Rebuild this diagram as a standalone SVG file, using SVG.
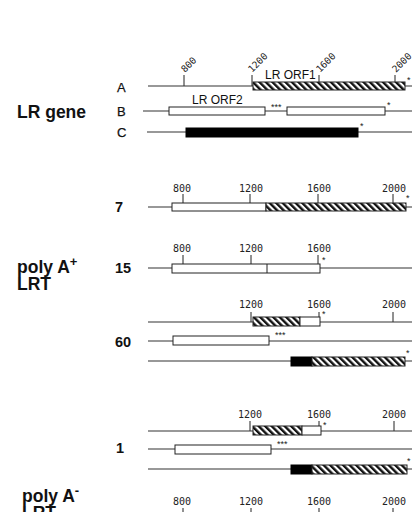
<svg xmlns="http://www.w3.org/2000/svg" width="412" height="512" viewBox="0 0 412 512">
<defs>
<pattern id="hatch" patternUnits="userSpaceOnUse" width="4.6" height="4.6" patternTransform="rotate(-45)">
<rect x="0" y="0" width="4.6" height="4.6" fill="#fff"/>
<rect x="0" y="0" width="2.4" height="4.6" fill="#111"/>
</pattern>
</defs>
<style>
.ln{stroke:#333;stroke-width:1.1;fill:none}
.tk{stroke:#222;stroke-width:1;fill:none}
.ob{fill:#fff;stroke:#222;stroke-width:1}
.hb{fill:url(#hatch);stroke:#222;stroke-width:1}
.bb{fill:#000;stroke:#000;stroke-width:1}
.big{font-family:"Liberation Sans",Arial,sans-serif;font-weight:bold;font-size:17.5px;fill:#111}
.row{font-family:"Liberation Sans",Arial,sans-serif;font-size:13px;fill:#111;stroke:#111;stroke-width:0.25}
.num{font-family:"Liberation Sans",Arial,sans-serif;font-weight:bold;font-size:14.5px;fill:#111}
.orf{font-family:"Liberation Sans",Arial,sans-serif;font-size:12px;fill:#111}
.sc{font-family:"DejaVu Sans Mono","Liberation Mono",monospace;font-size:10px;fill:#222;text-anchor:middle}
.rs{font-family:"DejaVu Sans Mono","Liberation Mono",monospace;font-size:9.5px;fill:#222}
.st{font-family:"Liberation Sans",Arial,sans-serif;font-size:9px;fill:#222}
</style>

<g id="labels">
<text class="big" x="17" y="118">LR gene</text>
<text class="big" x="17" y="273">poly A<tspan dy="-7" font-size="13">+</tspan></text>
<text class="big" x="17" y="290">LRT</text>
<text class="big" x="22" y="502">poly A<tspan dy="-7" font-size="13">-</tspan></text>
<text class="big" x="22" y="519">LRT</text>
</g>

<g id="lr-gene-scale">
<path class="tk" d="M184 75V86M252 75V86M319 75V86M395 75V86"/>
<text class="rs" transform="translate(185,73) rotate(-45)">800</text>
<text class="rs" transform="translate(252,73) rotate(-45)">1200</text>
<text class="rs" transform="translate(320,73) rotate(-45)">1600</text>
<text class="rs" transform="translate(396,73) rotate(-45)">2000</text>
</g>

<g id="row-A">
<text class="row" x="117" y="92">A</text>
<line class="ln" x1="148" y1="86" x2="412" y2="86"/>
<rect class="hb" x="253" y="82" width="152" height="8"/>
<text class="orf" x="265" y="79">LR ORF1</text>
<text class="st" x="407" y="83">*</text>
</g>

<g id="row-B">
<text class="row" x="117" y="116">B</text>
<line class="ln" x1="143" y1="111" x2="412" y2="111"/>
<rect class="ob" x="169" y="107" width="96" height="8"/>
<rect class="ob" x="287" y="107" width="98" height="8"/>
<text class="orf" x="192" y="104">LR ORF2</text>
<text class="st" x="271" y="110">***</text>
<text class="st" x="387" y="108">*</text>
</g>

<g id="row-C">
<text class="row" x="117" y="137">C</text>
<line class="ln" x1="147" y1="132" x2="412" y2="132"/>
<rect class="bb" x="186" y="128" width="172" height="9"/>
<text class="st" x="360" y="129">*</text>
</g>

<g id="lrt-7">
<text class="num" x="115" y="212">7</text>
<text class="sc" x="182" y="192">800</text>
<text class="sc" x="251" y="192">1200</text>
<text class="sc" x="319" y="192">1600</text>
<text class="sc" x="394" y="192">2000</text>
<path class="tk" d="M183 194V203M250 194V203M318 194V203M393 194V203"/>
<line class="ln" x1="148" y1="207" x2="412" y2="207"/>
<rect class="ob" x="172" y="203" width="94" height="8"/>
<rect class="hb" x="266" y="203" width="140" height="8"/>
<text class="st" x="406" y="201">*</text>
</g>

<g id="lrt-15">
<text class="num" x="115" y="273">15</text>
<text class="sc" x="182" y="252">800</text>
<text class="sc" x="251" y="252">1200</text>
<text class="sc" x="319" y="252">1600</text>
<path class="tk" d="M183 255V264M251 255V264M318 255V264"/>
<line class="ln" x1="148" y1="268" x2="412" y2="268"/>
<rect class="ob" x="172" y="264" width="148" height="9"/>
<line class="tk" x1="267" y1="264" x2="267" y2="273"/>
<text class="st" x="322" y="263">*</text>
</g>

<g id="lrt-60">
<text class="num" x="115" y="347">60</text>
<text class="sc" x="251" y="308">1200</text>
<text class="sc" x="319" y="308">1600</text>
<text class="sc" x="394" y="308">2000</text>
<path class="tk" d="M251 312V322M319 312V322M393 312V322"/>
<line class="ln" x1="148" y1="322" x2="412" y2="322"/>
<rect class="hb" x="253" y="317" width="47" height="9"/>
<rect class="ob" x="300" y="317" width="20" height="9"/>
<text class="st" x="322" y="317">*</text>
<line class="ln" x1="148" y1="341" x2="412" y2="341"/>
<rect class="ob" x="173" y="336" width="96" height="9"/>
<text class="st" x="275" y="338">***</text>
<line class="ln" x1="148" y1="361" x2="412" y2="361"/>
<rect class="bb" x="291" y="357" width="21" height="9"/>
<rect class="hb" x="312" y="357" width="93" height="9"/>
<text class="st" x="406" y="356">*</text>
</g>

<g id="lrt-1">
<text class="num" x="116" y="453">1</text>
<text class="sc" x="250" y="418">1200</text>
<text class="sc" x="319" y="418">1600</text>
<text class="sc" x="394" y="418">2000</text>
<path class="tk" d="M250 421V431M319 421V431M394 421V431"/>
<line class="ln" x1="148" y1="431" x2="412" y2="431"/>
<rect class="hb" x="253" y="426" width="49" height="9"/>
<rect class="ob" x="302" y="426" width="19" height="9"/>
<text class="st" x="323" y="428">*</text>
<line class="ln" x1="148" y1="449" x2="412" y2="449"/>
<rect class="ob" x="175" y="445" width="96" height="9"/>
<text class="st" x="277" y="447">***</text>
<line class="ln" x1="148" y1="469" x2="412" y2="469"/>
<rect class="bb" x="291" y="465" width="21" height="9"/>
<rect class="hb" x="312" y="465" width="95" height="9"/>
<text class="st" x="407" y="464">*</text>
</g>

<g id="polyA-minus-scale">
<text class="sc" x="182" y="505">800</text>
<text class="sc" x="251" y="505">1200</text>
<text class="sc" x="319" y="505">1600</text>
<text class="sc" x="394" y="505">2000</text>
<path class="tk" d="M183 508V516M251 508V516M319 508V516M393 508V516"/>
</g>
</svg>
